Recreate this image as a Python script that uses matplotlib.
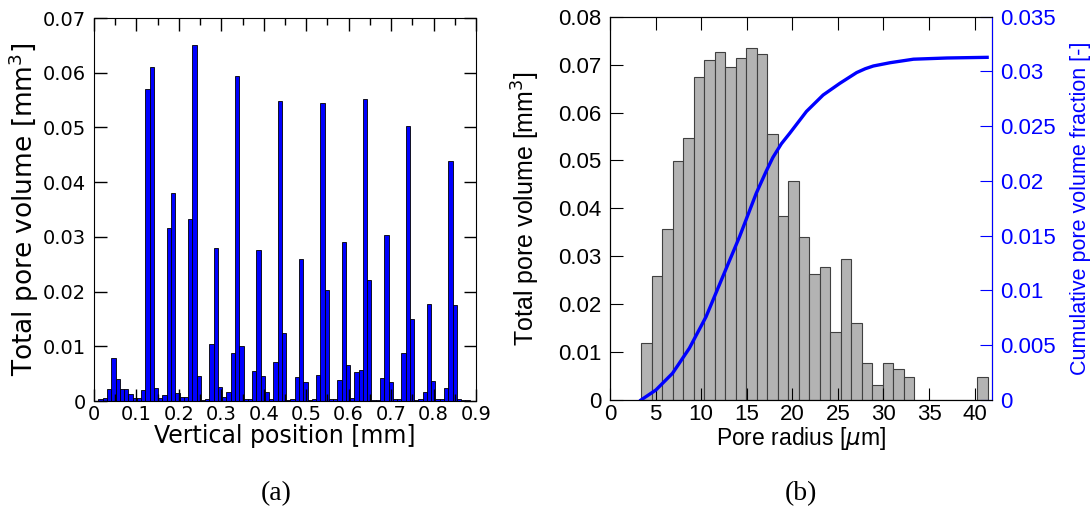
import numpy as np
import matplotlib
matplotlib.use("Agg")
import matplotlib.pyplot as plt
from matplotlib.ticker import MultipleLocator, FuncFormatter

# (a) pore volume per vertical slice, bin width ~0.01 mm
slice_width = 0.01005
slice_start = 0.0005
slice_volume = [
    0.0, 0.0004, 0.0005, 0.0022, 0.0079, 0.0041, 0.0022, 0.0022, 0.0013, 0.0005,
    0.0005, 0.0020, 0.0570, 0.0611, 0.0024, 0.0006, 0.0011, 0.0316, 0.0381, 0.0014,
    0.0008, 0.0008, 0.0333, 0.0650, 0.0046, 0.0002, 0.0004, 0.0104, 0.0279, 0.0025,
    0.0008, 0.0017, 0.0087, 0.0594, 0.0100, 0.0003, 0.0003, 0.0055, 0.0276, 0.0045,
    0.0017, 0.0004, 0.0072, 0.0549, 0.0124, 0.0002, 0.0003, 0.0043, 0.0260, 0.0034,
    0.0001, 0.0004, 0.0048, 0.0544, 0.0203, 0.0003, 0.0003, 0.0039, 0.0290, 0.0066,
    0.0006, 0.0053, 0.0057, 0.0552, 0.0221, 0.0002, 0.0002, 0.0042, 0.0303, 0.0034,
    0.0003, 0.0003, 0.0088, 0.0502, 0.0150, 0.0002, 0.0003, 0.0016, 0.0178, 0.0036,
    0.0003, 0.0003, 0.0023, 0.0438, 0.0175, 0.0003, 0.0002, 0.0002,
]

# (b) pore volume per radius class, plus cumulative fraction
radius_width = 1.151
radius_start = 3.45
radius_volume = [
    0.0118, 0.0259, 0.0357, 0.0499, 0.0547, 0.0675, 0.0709, 0.0726, 0.0695, 0.0714,
    0.0735, 0.0722, 0.0556, 0.0385, 0.0458, 0.0341, 0.0263, 0.0278, 0.0141, 0.0294,
    0.0160, 0.0077, 0.0031, 0.0077, 0.0064, 0.0047, 0.0, 0.0, 0.0, 0.0,
    0.0, 0.0, 0.0047,
]
cum_radius = [3.40, 5.03, 6.86, 8.70, 10.54, 12.37, 14.21, 16.04, 17.14, 17.87,
              18.8, 19.71, 21.55, 23.38, 25.22, 27.06, 28.0, 28.89, 30.73, 33.29,
              36.96, 41.37]
cum_fraction = [0.0, 0.00091, 0.00244, 0.00472, 0.00761, 0.01126, 0.01491, 0.01887,
                0.02090, 0.02215, 0.02340, 0.02435, 0.02635, 0.02785, 0.02892,
                0.02990, 0.03025, 0.03050, 0.03080, 0.03112, 0.03123, 0.03129]

fmt = FuncFormatter(lambda v, pos: "%g" % round(v, 4))

fig = plt.figure(figsize=(10.92, 5.22), dpi=100)

# ---- (a) ----
ax1 = fig.add_axes([0.0861, 0.2318, 0.3498, 0.7337])
xa = slice_start + np.arange(len(slice_volume)) * slice_width
ax1.bar(xa, slice_volume, width=slice_width, align="edge",
        color="#0000ff", edgecolor="black", linewidth=0.6)
ax1.set_xlim(0, 0.9)
ax1.set_ylim(0, 0.07)
ax1.xaxis.set_major_locator(MultipleLocator(0.1))
ax1.xaxis.set_minor_locator(MultipleLocator(0.05))
ax1.yaxis.set_major_locator(MultipleLocator(0.01))
ax1.xaxis.set_major_formatter(fmt)
ax1.yaxis.set_major_formatter(fmt)
ax1.tick_params(which="both", direction="in", top=True, right=True,
                labelsize=14, width=1.0, colors="black")
ax1.tick_params(which="major", length=9)
ax1.tick_params(axis="y", which="major", pad=6)
ax1.tick_params(axis="x", which="major", pad=3)
ax1.tick_params(which="minor", length=5)
for lab in ax1.get_xticklabels() + ax1.get_yticklabels():
    lab.set_family("DejaVu Sans")
ax1.set_xlabel("Vertical position [mm]", fontsize=17, labelpad=0)
ax1.set_ylabel("Total pore volume [mm$^3$]", fontsize=19, labelpad=1)

# ---- (b) ----
ax2 = fig.add_axes([0.5586, 0.2337, 0.3498, 0.7343])
xb = radius_start + np.arange(len(radius_volume)) * radius_width
ax2.bar(xb, radius_volume, width=radius_width, align="edge",
        color="#b3b3b3", edgecolor="#404040", linewidth=0.8)
ax2.set_xlim(0, 41.9)
ax2.set_ylim(0, 0.08)
ax2.xaxis.set_major_locator(MultipleLocator(5))
ax2.yaxis.set_major_locator(MultipleLocator(0.01))
ax2.yaxis.set_major_formatter(fmt)
ax2.tick_params(direction="in", top=True, length=9, labelsize=16)
ax2.tick_params(axis="y", pad=6)
ax2.tick_params(axis="x", pad=3)
for lab in ax2.get_xticklabels() + ax2.get_yticklabels():
    lab.set_family("Liberation Sans")
ax2.set_xlabel("Pore radius [$\\mu$m]", fontsize=16.5, family="Liberation Sans", labelpad=0)
ax2.set_ylabel("Total pore volume [mm$^3$]", fontsize=18, family="Liberation Sans", labelpad=12)

ax3 = ax2.twinx()
ax3.plot(cum_radius, cum_fraction, color="#0000ff", linewidth=2.4)
ax3.set_ylim(0, 0.035)
ax3.yaxis.set_major_locator(MultipleLocator(0.005))
ax3.yaxis.set_major_formatter(fmt)
ax3.tick_params(direction="in", length=9, pad=6, labelsize=16, colors="#0000ff")
for lab in ax3.get_yticklabels():
    lab.set_family("Liberation Sans")
ax3.spines["right"].set_color("#0000ff")
ax3.set_ylabel("Cumulative pore volume fraction [-]", fontsize=15.5,
               family="Liberation Sans", color="#0000ff", labelpad=10)

fig.text(0.2527, 0.0536, "(a)", fontsize=20, family="Liberation Serif",
         ha="center", va="center")
fig.text(0.7335, 0.0536, "(b)", fontsize=20, family="Liberation Serif",
         ha="center", va="center")

fig.savefig("out.png", dpi=100)
